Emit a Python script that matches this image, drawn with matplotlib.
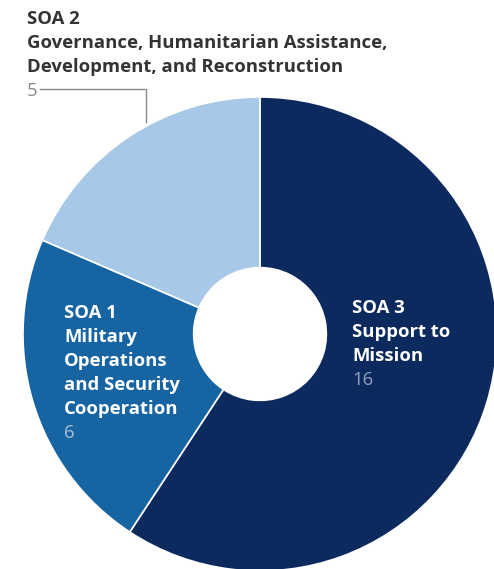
import matplotlib.pyplot as plt

# slice data, clockwise from the top
labels = ["SOA 3\nSupport to\nMission",
          "SOA 1\nMilitary\nOperations\nand Security\nCooperation",
          "SOA 2\nGovernance, Humanitarian Assistance,\nDevelopment, and Reconstruction"]
values = [16, 6, 5]
colors = ["#0c2a5e", "#1764a2", "#a8c8e8"]

W, H = 494, 569
cx, cy, R = 260, 334, 237   # pie centre and radius in pixels

fig = plt.figure(figsize=(W / 100, H / 100), dpi=100)
ax = fig.add_axes([0, 0, 1, 1])
ax.pie(values, colors=colors, startangle=90, counterclock=False,
       radius=1, wedgeprops=dict(width=1 - 0.28, edgecolor="white", linewidth=1.2))
ax.set_xlim(-cx / R, (W - cx) / R)
ax.set_ylim(-(H - cy) / R, cy / R)
ax.set_aspect("equal")
ax.axis("off")

font = ["Open Sans", "DejaVu Sans"]
fs = 13.3
gap = 24


def px(x, y):
    return x / W, 1 - y / H


def block(x, y, text, color, num, numcolor):
    lines = text.split("\n")
    for i, ln in enumerate(lines):
        fig.text(*px(x, y + i * gap), ln, color=color, fontsize=fs,
                 fontweight="bold", family=font, va="center", ha="left")
    fig.text(*px(x, y + len(lines) * gap), str(num), color=numcolor,
             fontsize=fs, family=font, va="center", ha="left")


block(27, 19, labels[2], "#333333", values[2], "#8a8a8a")
block(64, 313, labels[1], "white", values[1], "#a9bfd8")
block(352, 308, labels[0], "white", values[0], "#8f9fbf")

# leader line for SOA 2
xs = [40 / W, 146 / W, 146 / W]
ys = [1 - 89 / H, 1 - 89 / H, 1 - 122 / H]
fig.add_artist(plt.Line2D(xs, ys, color="#8a8a8a", linewidth=1))

fig.savefig("out.png", dpi=100)
